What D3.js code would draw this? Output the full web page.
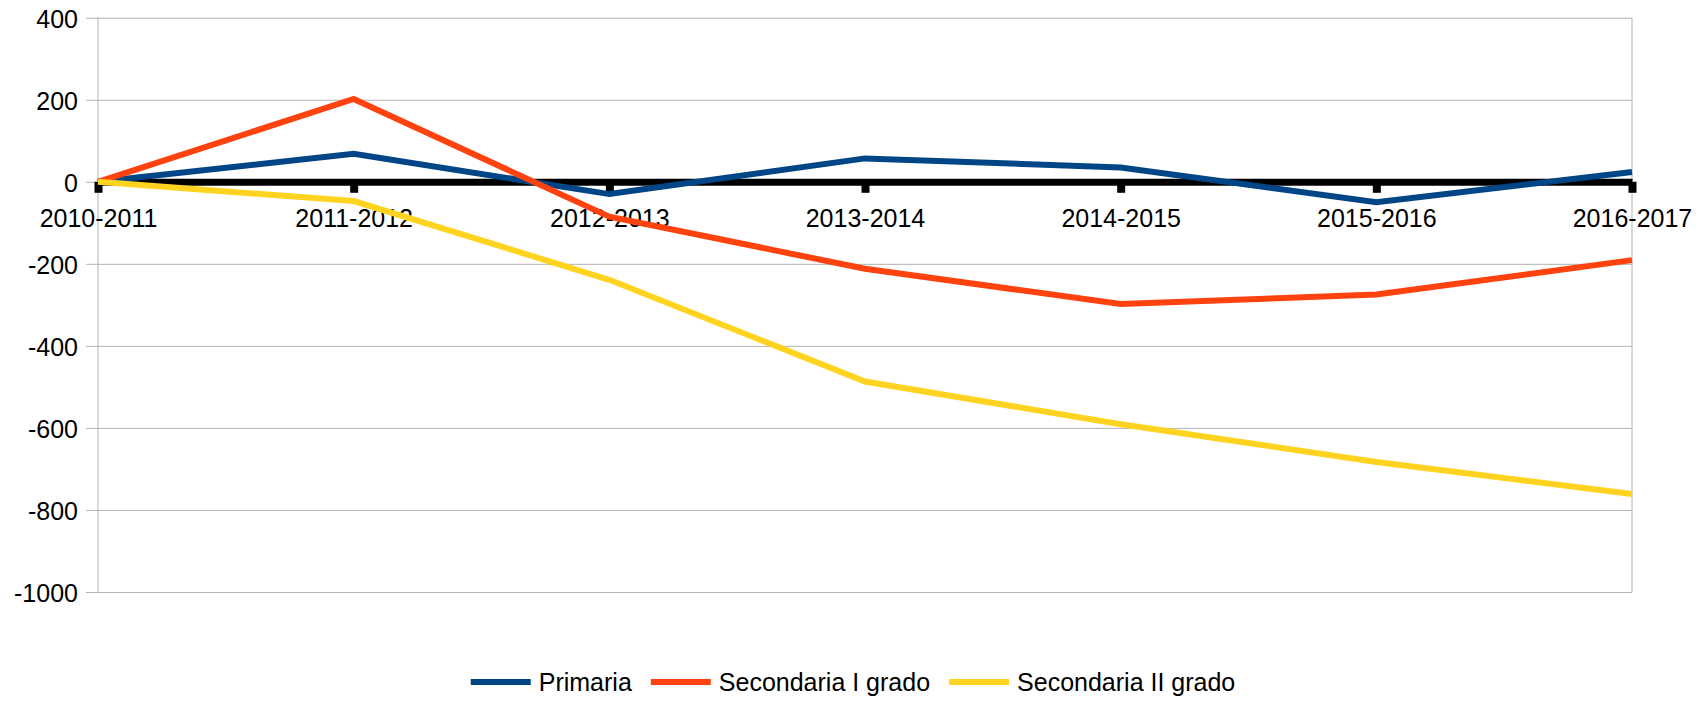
<!DOCTYPE html>
<html>
<head>
<meta charset="utf-8">
<script src="https://cdn.jsdelivr.net/npm/d3@7"></script>
<style>
  body { margin: 0; background: #fff; }
  text { font-family: "Liberation Sans", Arial, sans-serif; fill: #000; }
</style>
</head>
<body>
<div id="chart"></div>
<script>
// Data
var categories = ["2010-2011", "2011-2012", "2012-2013", "2013-2014", "2014-2015", "2015-2016", "2016-2017"];
var primaria = [0, 68, -30, 57, 35, -50, 24];
var secondariaI = [0, 202, -85, -212, -298, -275, -191];
var secondariaII = [0, -47, -239, -487, -591, -683, -761];
var yTicks = [-1000, -800, -600, -400, -200, 0, 200, 400];

var series = [
  { name: "Primaria", values: primaria, color: "#004586" },
  { name: "Secondaria I grado", values: secondariaI, color: "#ff420e" },
  { name: "Secondaria II grado", values: secondariaII, color: "#ffd320" }
];

var w = 1706;
var h = 701;
var plotLeft = 98, plotRight = 1632, plotTop = 17.7, plotBottom = 592;

var svg = d3.select("#chart")
  .append("svg")
  .attr("width", w)
  .attr("height", h);

// Scales
var xScale = d3.scalePoint()
  .domain(categories)
  .range([plotLeft, plotRight]);

var yScale = d3.scaleLinear()
  .domain([-1000, 400])
  .range([plotBottom, plotTop]);

// Gridlines + y labels
var yAxis = d3.axisLeft(yScale)
  .tickValues(yTicks)
  .tickFormat(function(d) { return String(d); })
  .tickSize(-(plotRight - plotLeft))
  .tickSizeOuter(0)
  .tickPadding(20);

var gy = svg.append("g")
  .attr("transform", "translate(" + plotLeft + ",0)")
  .call(yAxis);
gy.select(".domain").remove();
gy.selectAll(".tick line")
  .attr("x1", -12)
  .attr("stroke", "#b3b3b3")
  .attr("stroke-width", 1);
gy.selectAll(".tick text")
  .attr("dy", "0.38em")
  .style("font-size", "25px");

// Plot frame (left and right)
svg.append("line")
  .attr("x1", plotLeft).attr("x2", plotLeft)
  .attr("y1", plotTop).attr("y2", plotBottom)
  .attr("stroke", "#b3b3b3");
svg.append("line")
  .attr("x1", plotRight).attr("x2", plotRight)
  .attr("y1", plotTop).attr("y2", plotBottom)
  .attr("stroke", "#b3b3b3");

// Black x axis at zero
var xAxis = d3.axisBottom(xScale)
  .tickSize(11)
  .tickSizeOuter(0)
  .tickPadding(16);

var gx = svg.append("g")
  .attr("transform", "translate(0," + yScale(0) + ")")
  .call(xAxis);
gx.select(".domain")
  .attr("stroke", "#000")
  .attr("stroke-width", 7);
gx.selectAll(".tick line")
  .attr("stroke", "#000")
  .attr("stroke-width", 8);
gx.selectAll(".tick text")
  .style("font-size", "25px");

// Lines
var line = d3.line()
  .x(function(d, i) { return xScale(categories[i]); })
  .y(function(d) { return yScale(d); });

svg.selectAll("path.series")
  .data(series)
  .enter()
  .append("path")
  .attr("class", "series")
  .attr("d", function(s) { return line(s.values); })
  .attr("fill", "none")
  .attr("stroke", function(s) { return s.color; })
  .attr("stroke-width", 6);

// Legend
var legend = svg.append("g");
var xPos = 0;
series.forEach(function(s) {
  var item = legend.append("g").attr("transform", "translate(" + xPos + ",0)");
  item.append("line")
    .attr("x1", 0).attr("x2", 60)
    .attr("y1", 0).attr("y2", 0)
    .attr("stroke", s.color)
    .attr("stroke-width", 6);
  var t = item.append("text")
    .attr("x", 68)
    .attr("dy", "0.36em")
    .style("font-size", "25px")
    .text(s.name);
  xPos += 68 + t.node().getComputedTextLength() + 19;
});
var legendWidth = xPos - 19;
legend.attr("transform", "translate(" + (w / 2 - legendWidth / 2) + ",682)");
</script>
</body>
</html>
